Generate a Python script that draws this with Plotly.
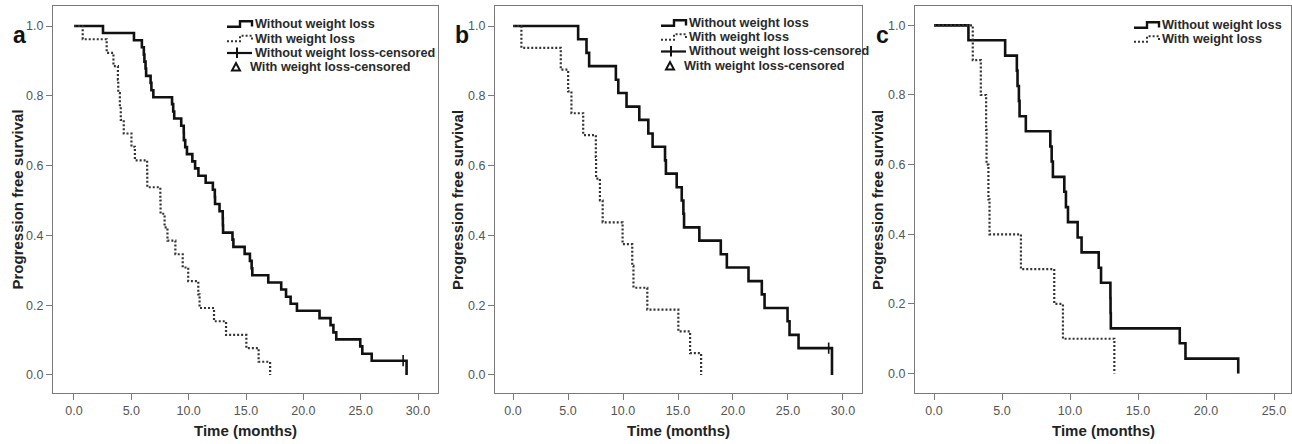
import plotly.graph_objects as go

W, H = 1292, 444

# ---------------- data (months, progression-free survival) ----------------
# Panel a : all patients
a_without_t = [2.53, 5.23, 5.92, 6.09, 6.14, 6.24, 6.29, 6.68, 6.75, 6.92, 8.55, 8.65, 8.74,
               9.35, 9.57, 9.58, 9.7, 9.85, 10.32, 10.56, 10.85, 11.48, 12.11, 12.28, 12.3,
               12.69, 12.97, 12.98, 13.0, 13.82, 13.9, 14.88, 15.34, 15.49, 15.55, 16.94,
               18.07, 18.49, 18.89, 19.44, 21.41, 22.37, 22.62, 22.87, 24.96, 25.14, 25.96,
               28.7, 29.0]
a_without_s = [0.980, 0.959, 0.939, 0.918, 0.898, 0.878, 0.857, 0.837, 0.816, 0.796, 0.776,
               0.755, 0.735, 0.714, 0.694, 0.673, 0.653, 0.633, 0.612, 0.592, 0.571, 0.551,
               0.531, 0.510, 0.490, 0.469, 0.449, 0.429, 0.408, 0.388, 0.367, 0.347, 0.327,
               0.306, 0.286, 0.265, 0.245, 0.224, 0.204, 0.184, 0.163, 0.143, 0.122, 0.102,
               0.082, 0.061, 0.041, 0.041, 0.0]
a_with_t = [0.76, 2.85, 3.44, 3.83, 3.86, 4.0, 4.08, 4.34, 5.01, 5.31, 6.38, 6.39, 7.53, 7.55,
            7.9, 8.15, 8.84, 9.48, 9.96, 10.84, 10.95, 12.21, 13.26, 15.03, 16.1, 17.1]
a_with_s = [0.962, 0.923, 0.885, 0.846, 0.808, 0.769, 0.731, 0.692, 0.654, 0.615, 0.577,
            0.538, 0.500, 0.462, 0.423, 0.385, 0.346, 0.308, 0.269, 0.231, 0.192, 0.154,
            0.115, 0.077, 0.038, 0.0]
a_cens_t = [28.7]
a_cens_s = [0.041]

# Panel b
b_without_t = [5.92, 6.68, 6.92, 9.35, 9.57, 10.32, 11.48, 12.3, 12.69, 13.82, 13.9, 14.88,
               15.34, 15.49, 15.55, 16.94, 18.89, 19.44, 21.41, 22.62, 22.87, 24.96, 25.14,
               25.96, 28.7, 29.0]
b_without_s = [0.962, 0.923, 0.885, 0.846, 0.808, 0.769, 0.731, 0.692, 0.654, 0.615, 0.577,
               0.538, 0.500, 0.462, 0.423, 0.385, 0.346, 0.308, 0.269, 0.231, 0.192, 0.154,
               0.115, 0.077, 0.077, 0.0]
b_with_t = [0.76, 4.34, 5.01, 5.31, 6.38, 7.53, 7.55, 7.9, 8.15, 9.96, 10.84, 10.95, 12.21,
            15.03, 16.1, 17.1]
b_with_s = [0.9375, 0.875, 0.8125, 0.75, 0.6875, 0.625, 0.5625, 0.5, 0.4375, 0.375, 0.3125,
            0.25, 0.1875, 0.125, 0.0625, 0.0]
b_cens_t = [28.7]
b_cens_s = [0.077]

# Panel c
c_without_t = [2.53, 5.23, 6.09, 6.14, 6.24, 6.29, 6.75, 8.55, 8.65, 8.74, 9.58, 9.7, 9.85,
               10.56, 10.85, 12.11, 12.28, 12.97, 12.98, 13.0, 18.07, 18.49, 22.37]
c_without_s = [0.957, 0.913, 0.870, 0.826, 0.783, 0.739, 0.696, 0.652, 0.609, 0.565, 0.522,
               0.478, 0.435, 0.391, 0.348, 0.304, 0.261, 0.217, 0.174, 0.130, 0.087, 0.043, 0.0]
c_with_t = [2.85, 3.44, 3.83, 3.86, 4.0, 4.08, 6.39, 8.84, 9.48, 13.26]
c_with_s = [0.9, 0.8, 0.7, 0.6, 0.5, 0.4, 0.3, 0.2, 0.1, 0.0]

x_ticks_ab = [0, 5, 10, 15, 20, 25, 30]
x_ticks_c = [0, 5, 10, 15, 20, 25]
y_ticks = [0.0, 0.2, 0.4, 0.6, 0.8, 1.0]

panel_labels = ["a", "b", "c"]
legend_full = ["Without weight loss", "With weight loss",
               "Without weight loss-censored", "With weight loss-censored"]
legend_short = ["Without weight loss", "With weight loss"]
x_title = "Time (months)"
y_title = "Progression free survival"

# ---------------- styling / layout helpers ----------------
FONT = "Liberation Sans, Arial, sans-serif"
FRAME = "#7a7a7a"
SOLID = "#111111"
DOT = "#333333"


def px(x):
    return x / W


def py(y):
    return 1 - y / H


panels = [
    dict(label=panel_labels[0], xdom=(53, 438), xr=(-1.83, 31.74), yr=(-0.0516, 1.0573),
         xt=x_ticks_ab, wo=(a_without_t, a_without_s), w=(a_with_t, a_with_s),
         cens=(a_cens_t, a_cens_s), legend=legend_full,
         leg_icon_x=227, leg_text_x=253, leg_rows=[24, 38.5, 53, 67],
         ylab_x=16.5, lab_x=19.5, lab_y=34.5),
    dict(label=panel_labels[1], xdom=(495, 862), xr=(-1.64, 31.73), yr=(-0.0516, 1.0573),
         xt=x_ticks_ab, wo=(b_without_t, b_without_s), w=(b_with_t, b_with_s),
         cens=(b_cens_t, b_cens_s), legend=legend_full,
         leg_icon_x=661, leg_text_x=687, leg_rows=[23, 37, 51.5, 66],
         ylab_x=457, lab_x=462, lab_y=34.5),
    dict(label=panel_labels[2], xdom=(915, 1291), xr=(-1.40, 26.25), yr=(-0.0557, 1.0555),
         xt=x_ticks_c, wo=(c_without_t, c_without_s), w=(c_with_t, c_with_s),
         cens=None, legend=legend_short,
         leg_icon_x=1134, leg_text_x=1160, leg_rows=[25, 39],
         ylab_x=877, lab_x=882, lab_y=35),
]

fig = go.Figure()
layout = dict(width=W, height=H, margin=dict(l=0, r=0, t=0, b=0),
              paper_bgcolor="white", plot_bgcolor="white", showlegend=False,
              font=dict(family=FONT, color="#555555", size=12.5))
annotations = []
shapes = []
ydom = (py(393), py(6))

for i, p in enumerate(panels):
    n = "" if i == 0 else str(i + 1)
    xa, ya = "x" + n, "y" + n
    common = dict(showline=True, linecolor=FRAME, linewidth=1, mirror=True,
                  ticks="outside", ticklen=6, tickcolor=FRAME, tickwidth=1,
                  showgrid=False, zeroline=False, tickformat=".1f",
                  tickfont=dict(family=FONT, size=12.5, color="#555555"))
    layout["xaxis" + n] = dict(domain=[px(p["xdom"][0]), px(p["xdom"][1])], range=list(p["xr"]),
                               tickvals=p["xt"], anchor=ya, **common)
    layout["yaxis" + n] = dict(domain=list(ydom), range=list(p["yr"]), tickvals=y_ticks,
                               anchor=xa, **common)

    wt, ws = p["wo"]
    fig.add_trace(go.Scatter(x=[0] + wt, y=[1.0] + ws, mode="lines", xaxis=xa, yaxis=ya,
                             line=dict(shape="hv", color=SOLID, width=2.6),
                             name=legend_full[0]))
    dt, ds = p["w"]
    fig.add_trace(go.Scatter(x=[0] + dt, y=[1.0] + ds, mode="lines", xaxis=xa, yaxis=ya,
                             line=dict(shape="hv", color=DOT, width=2.2, dash="2px,2px"),
                             name=legend_full[1]))
    if p["cens"] is not None:
        ct, cs = p["cens"]
        fig.add_trace(go.Scatter(x=ct, y=cs, mode="markers", xaxis=xa, yaxis=ya,
                                 marker=dict(symbol="line-ns", size=8,
                                             line=dict(color=SOLID, width=1.6)),
                                 name=legend_full[2]))

    # axis titles
    cx = (p["xdom"][0] + p["xdom"][1]) / 2
    annotations.append(dict(text="<b>%s</b>" % x_title, x=px(cx), y=py(430), xref="paper",
                            yref="paper", showarrow=False, xanchor="center", yanchor="middle",
                            font=dict(family=FONT, size=15, color="#222222")))
    annotations.append(dict(text="<b>%s</b>" % y_title, x=px(p["ylab_x"]), y=py(200),
                            xref="paper", yref="paper", showarrow=False, textangle=-90,
                            xanchor="center", yanchor="middle",
                            font=dict(family=FONT, size=15, color="#222222")))
    # panel label
    annotations.append(dict(text="<b>%s</b>" % p["label"], x=px(p["lab_x"]), y=py(p["lab_y"]),
                            xref="paper", yref="paper", showarrow=False, xanchor="center",
                            yanchor="middle", font=dict(family=FONT, size=23, color="#111111")))

    # legend
    ix, tx = p["leg_icon_x"], p["leg_text_x"]
    for k, label in enumerate(p["legend"]):
        ry = p["leg_rows"][k]
        text_x = tx if k < 3 else tx - 5
        annotations.append(dict(text="<b>%s</b>" % label, x=px(text_x), y=py(ry),
                                xref="paper", yref="paper", showarrow=False, xanchor="left",
                                yanchor="middle",
                                font=dict(family=FONT, size=12.7, color="#2a2a2a")))
        if k in (0, 1):
            path = "M %f,%f L %f,%f L %f,%f L %f,%f L %f,%f" % (
                px(ix), py(ry + 2.7), px(ix + 13), py(ry + 2.7), px(ix + 13), py(ry - 2.7),
                px(ix + 25), py(ry - 2.7), px(ix + 25), py(ry + 2.5))
            shapes.append(dict(type="path", path=path, xref="paper", yref="paper",
                               line=dict(color=SOLID if k == 0 else DOT,
                                         width=2.4 if k == 0 else 2.0,
                                         dash="solid" if k == 0 else "2px,2px")))
        elif k == 2:
            shapes.append(dict(type="line", xref="paper", yref="paper",
                               x0=px(ix), x1=px(ix + 25), y0=py(ry), y1=py(ry),
                               line=dict(color=SOLID, width=2.2)))
            shapes.append(dict(type="line", xref="paper", yref="paper",
                               x0=px(ix + 10), x1=px(ix + 10), y0=py(ry - 5.5), y1=py(ry + 5),
                               line=dict(color=SOLID, width=2.0)))
        else:
            tri = "M %f,%f L %f,%f L %f,%f Z" % (
                px(ix + 5), py(ry + 3.5), px(ix + 13), py(ry + 3.5), px(ix + 9), py(ry - 4))
            shapes.append(dict(type="path", path=tri, xref="paper", yref="paper",
                               line=dict(color=SOLID, width=2.0), fillcolor="white"))

layout["annotations"] = annotations
layout["shapes"] = shapes
fig.update_layout(**layout)

fig.write_html("out.html", config={"displayModeBar": False},
               post_script="document.body.style.margin='0px';")
